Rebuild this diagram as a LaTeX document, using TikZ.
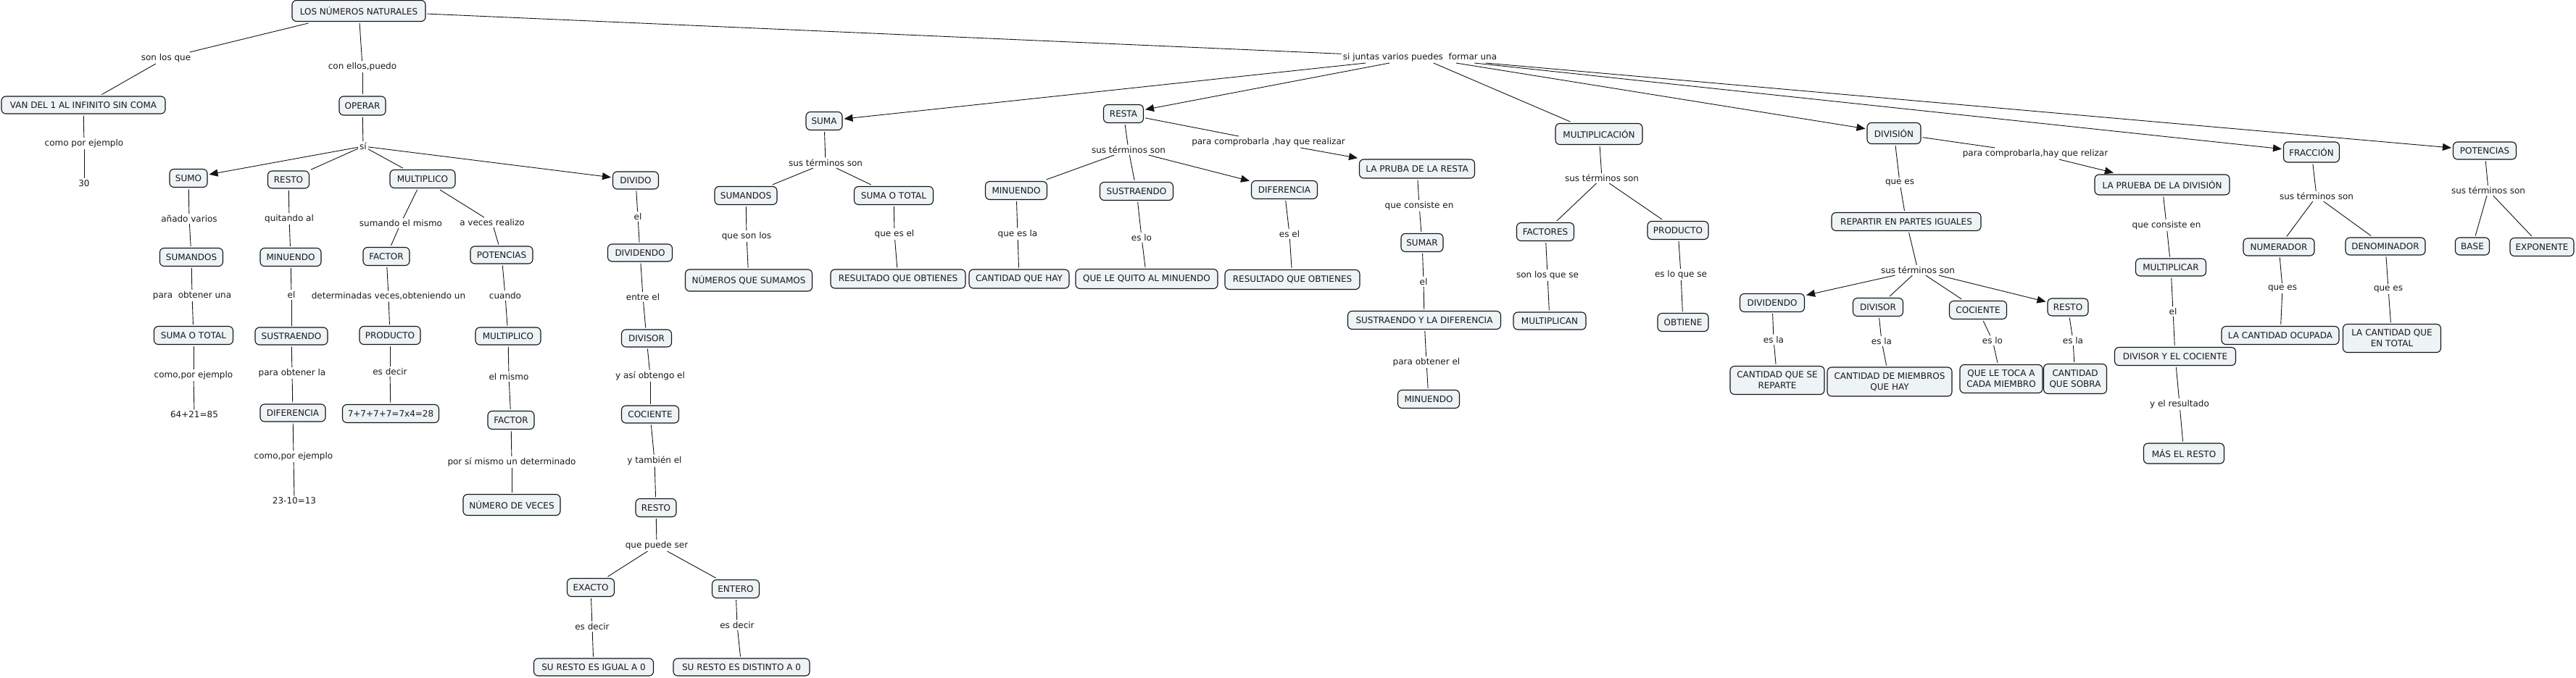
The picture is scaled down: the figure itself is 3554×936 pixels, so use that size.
\documentclass[tikz,border=0pt]{standalone}
\usepackage{fontspec}
\setmainfont{DejaVu Sans}
\usetikzlibrary{arrows.meta}
\definecolor{cfill}{RGB}{238,243,246}
\definecolor{linec}{RGB}{20,20,20}
\definecolor{txt}{RGB}{25,25,25}
\newcommand{\mapfnt}{\fontsize{12}{15}\selectfont}
\begin{document}
\begin{tikzpicture}[x=1pt,y=-1pt,
  cpt/.style={draw=linec, line width=1.1pt, rounded corners=6pt, fill=cfill, inner sep=0pt, outer sep=2.5pt, align=center, text=txt, font=\mapfnt},
  lab/.style={inner sep=2pt, text=txt, font=\mapfnt},
  plain/.style={inner sep=2pt, text=txt, font=\mapfnt},
  cn/.style={draw=linec, line width=0.9pt},
  ca/.style={cn, -{Triangle[length=12pt,width=10pt]}}]
\fill[white] (0,0) rectangle (3554,936);
\useasboundingbox (0,0) rectangle (3554,936);
% ---------- concepts, left part
\node[cpt, minimum width=184pt, minimum height=29pt] (c1) at (495,15) {LOS NÚMEROS NATURALES};
\node[cpt, minimum width=226pt, minimum height=24pt] (c2) at (115,145) {VAN DEL 1 AL INFINITO SIN COMA};
\node[cpt, minimum width=64pt, minimum height=26pt] (c3) at (500,146) {OPERAR};
\node[cpt, minimum width=52pt, minimum height=25pt] (c4) at (260,246) {SUMO};
\node[cpt, minimum width=57pt, minimum height=24pt] (c5) at (398,248) {RESTO};
\node[cpt, minimum width=90pt, minimum height=25pt] (c6) at (583,247) {MULTIPLICO};
\node[cpt, minimum width=63pt, minimum height=24pt] (c7) at (877,249) {DIVIDO};
\node[cpt, minimum width=87pt, minimum height=25pt] (c8) at (264,355) {SUMANDOS};
\node[cpt, minimum width=84pt, minimum height=25pt] (c9) at (401,355) {MINUENDO};
\node[cpt, minimum width=64pt, minimum height=25pt] (c10) at (533,354) {FACTOR};
\node[cpt, minimum width=86pt, minimum height=24pt] (c11) at (692,352) {POTENCIAS};
\node[cpt, minimum width=89pt, minimum height=24pt] (c12) at (883,349) {DIVIDENDO};
\node[cpt, minimum width=109pt, minimum height=25pt] (c13) at (267,463) {SUMA O TOTAL};
\node[cpt, minimum width=100pt, minimum height=24pt] (c14) at (402,464) {SUSTRAENDO};
\node[cpt, minimum width=84pt, minimum height=25pt] (c15) at (538,463) {PRODUCTO};
\node[cpt, minimum width=90pt, minimum height=24pt] (c16) at (701,464) {MULTIPLICO};
\node[cpt, minimum width=69pt, minimum height=24pt] (c17) at (892,467) {DIVISOR};
\node[cpt, minimum width=90pt, minimum height=24pt] (c18) at (404,570) {DIFERENCIA};
\node[cpt, minimum width=133pt, minimum height=25pt] (c19) at (539,571) {7+7+7+7=7x4=28};
\node[cpt, minimum width=64pt, minimum height=25pt] (c20) at (705,580) {FACTOR};
\node[cpt, minimum width=79pt, minimum height=24pt] (c21) at (897,572) {COCIENTE};
\node[cpt, minimum width=134pt, minimum height=29pt] (c22) at (706,697) {NÚMERO DE VECES};
\node[cpt, minimum width=56pt, minimum height=25pt] (c23) at (905,701) {RESTO};
\node[cpt, minimum width=65pt, minimum height=25pt] (c24) at (815,811) {EXACTO};
\node[cpt, minimum width=65pt, minimum height=25pt] (c25) at (1015,813) {ENTERO};
\node[cpt, minimum width=165pt, minimum height=24pt] (c26) at (819,921) {SU RESTO ES IGUAL A 0};
\node[cpt, minimum width=188pt, minimum height=24pt] (c27) at (1023,921) {SU RESTO ES DISTINTO A 0};
\node[plain] (n30) at (116,253) {30};
\node[plain] (n64) at (268,572) {64+21=85};
\node[plain] (n23) at (406,691) {23-10=13};
% ---------- concepts, middle
\node[cpt, minimum width=50pt, minimum height=25pt] (c28) at (1137,167) {SUMA};
\node[cpt, minimum width=55pt, minimum height=25pt] (c29) at (1550,157) {RESTA};
\node[cpt, minimum width=86pt, minimum height=25pt] (c30) at (1029,270) {SUMANDOS};
\node[cpt, minimum width=109pt, minimum height=25pt] (c31) at (1233,270) {SUMA O TOTAL};
\node[cpt, minimum width=85pt, minimum height=25pt] (c32) at (1402,263) {MINUENDO};
\node[cpt, minimum width=101pt, minimum height=25pt] (c33) at (1568,264) {SUSTRAENDO};
\node[cpt, minimum width=91pt, minimum height=25pt] (c34) at (1772,262) {DIFERENCIA};
\node[cpt, minimum width=175pt, minimum height=30pt] (c35) at (1033,387) {NÚMEROS QUE SUMAMOS};
\node[cpt, minimum width=186pt, minimum height=26pt] (c36) at (1239,385) {RESULTADO QUE OBTIENES};
\node[cpt, minimum width=138pt, minimum height=26pt] (c37) at (1406,385) {CANTIDAD QUE HAY};
\node[cpt, minimum width=196pt, minimum height=27pt] (c38) at (1582,385) {QUE LE QUITO AL MINUENDO};
\node[cpt, minimum width=186pt, minimum height=27pt] (c39) at (1783,386) {RESULTADO QUE OBTIENES};
\node[cpt, minimum width=159pt, minimum height=26pt] (c40) at (1955,233) {LA PRUBA DE LA RESTA};
\node[cpt, minimum width=58pt, minimum height=25pt] (c41) at (1962,335) {SUMAR};
\node[cpt, minimum width=211pt, minimum height=25pt] (c42) at (1965,442) {SUSTRAENDO Y LA DIFERENCIA};
\node[cpt, minimum width=85pt, minimum height=25pt] (c43) at (1971,551) {MINUENDO};
\node[cpt, minimum width=120pt, minimum height=29pt] (c44) at (2206,185) {MULTIPLICACIÓN};
\node[cpt, minimum width=79pt, minimum height=25pt] (c45) at (2132,320) {FACTORES};
\node[cpt, minimum width=84pt, minimum height=25pt] (c46) at (2315,318) {PRODUCTO};
\node[cpt, minimum width=100pt, minimum height=24pt] (c47) at (2138,443) {MULTIPLICAN};
\node[cpt, minimum width=70pt, minimum height=25pt] (c48) at (2322,445) {OBTIENE};
% ---------- concepts, right
\node[cpt, minimum width=74pt, minimum height=29pt] (c49) at (2613,184) {DIVISIÓN};
\node[cpt, minimum width=206pt, minimum height=25pt] (c50) at (2630,306) {REPARTIR EN PARTES IGUALES};
\node[cpt, minimum width=89pt, minimum height=25pt] (c51) at (2445,418) {DIVIDENDO};
\node[cpt, minimum width=69pt, minimum height=25pt] (c52) at (2591,424) {DIVISOR};
\node[cpt, minimum width=79pt, minimum height=25pt] (c53) at (2729,428) {COCIENTE};
\node[cpt, minimum width=56pt, minimum height=24pt] (c54) at (2853,424) {RESTO};
\node[cpt, minimum width=130pt, minimum height=39pt] (c55) at (2452,525) {CANTIDAD QUE SE\\REPARTE};
\node[cpt, minimum width=172pt, minimum height=40pt] (c56) at (2607,527) {CANTIDAD DE MIEMBROS\\QUE HAY};
\node[cpt, minimum width=114pt, minimum height=39pt] (c57) at (2761,523) {QUE LE TOCA A\\CADA MIEMBRO};
\node[cpt, minimum width=87pt, minimum height=41pt] (c58) at (2863,523) {CANTIDAD\\QUE SOBRA};
\node[cpt, minimum width=186pt, minimum height=28pt] (c59) at (2983,255) {LA PRUEBA DE LA DIVISIÓN};
\node[cpt, minimum width=97pt, minimum height=24pt] (c60) at (2995,369) {MULTIPLICAR};
\node[cpt, minimum width=167pt, minimum height=25pt] (c61) at (3001,492) {DIVISOR Y EL COCIENTE};
\node[cpt, minimum width=111pt, minimum height=28pt] (c62) at (3013,626) {MÁS EL RESTO};
\node[cpt, minimum width=77pt, minimum height=28pt] (c63) at (3189,210) {FRACCIÓN};
\node[cpt, minimum width=98pt, minimum height=24pt] (c64) at (3144,341) {NUMERADOR};
\node[cpt, minimum width=110pt, minimum height=24pt] (c65) at (3291,340) {DENOMINADOR};
\node[cpt, minimum width=162pt, minimum height=25pt] (c66) at (3146,463) {LA CANTIDAD OCUPADA};
\node[cpt, minimum width=135pt, minimum height=39pt] (c67) at (3300,467) {LA CANTIDAD QUE\\EN TOTAL};
\node[cpt, minimum width=87pt, minimum height=24pt] (c68) at (3428,208) {POTENCIAS};
\node[cpt, minimum width=47pt, minimum height=24pt] (c69) at (3411,340) {BASE};
\node[cpt, minimum width=88pt, minimum height=25pt] (c70) at (3507,341) {EXPONENTE};
% ---------- linking phrases
\node[lab] (l1) at (229,80) {son los que};
\node[lab] (l2) at (500,92) {con ellos,puedo};
\node[lab] (l3) at (116,198) {como por ejemplo};
\node[lab] (l4) at (501,202) {sí};
\node[lab] (l5) at (261,302) {añado varios};
\node[lab] (l6) at (399,302) {quitando al};
\node[lab] (l7) at (553,308) {sumando el mismo};
\node[lab] (l8) at (679,307) {a veces realizo};
\node[lab] (l9) at (880,299) {el};
\node[lab] (l10) at (265,408) {para~ obtener una};
\node[lab] (l11) at (402,407) {el};
\node[lab] (l12) at (536,409) {determinadas veces,obteniendo un};
\node[lab] (l13) at (697,408) {cuando};
\node[lab] (l14) at (887,410) {entre el};
\node[lab] (l15) at (267,518) {como,por ejemplo};
\node[lab] (l16) at (403,515) {para obtener la};
\node[lab] (l17) at (538,513) {es decir};
\node[lab] (l18) at (702,520) {el mismo};
\node[lab] (l19) at (897,519) {y así obtengo el};
\node[lab] (l20) at (405,630) {como,por ejemplo};
\node[lab] (l21) at (706,638) {por sí mismo un determinado};
\node[lab] (l22) at (903,636) {y también el};
\node[lab] (l23) at (906,753) {que puede ser};
\node[lab] (l24) at (817,865) {es decir};
\node[lab] (l25) at (1017,863) {es decir};
\node[lab] (l26) at (1959,79) {si juntas varios puedes~ formar una};
\node[lab] (l27) at (1139,225) {sus términos son};
\node[lab] (l28) at (1557,207) {sus términos son};
\node[lab] (l29) at (1750,196) {para comprobarla ,hay que realizar};
\node[lab] (l30) at (1030,326) {que son los};
\node[lab] (l31) at (1234,323) {que es el};
\node[lab] (l32) at (1404,323) {que es la};
\node[lab] (l33) at (1575,328) {es lo};
\node[lab] (l34) at (1779,323) {es el};
\node[lab] (l35) at (1958,284) {que consiste en};
\node[lab] (l36) at (1964,389) {el};
\node[lab] (l37) at (1968,500) {para obtener el};
\node[lab] (l38) at (2210,246) {sus términos son};
\node[lab] (l39) at (2135,380) {son los que se};
\node[lab] (l40) at (2319,379) {es lo que se};
\node[lab] (l41) at (2621,252) {que es};
\node[lab] (l42) at (2646,373) {sus términos son};
\node[lab] (l43) at (2447,469) {es la};
\node[lab] (l44) at (2596,471) {es la};
\node[lab] (l45) at (2749,470) {es lo};
\node[lab] (l46) at (2860,470) {es la};
\node[lab] (l47) at (2808,212) {para comprobarla,hay que relizar};
\node[lab] (l48) at (2989,311) {que consiste en};
\node[lab] (l49) at (2998,430) {el};
\node[lab] (l50) at (3007,558) {y el resultado};
\node[lab] (l51) at (3196,271) {sus términos son};
\node[lab] (l52) at (3149,398) {que es};
\node[lab] (l53) at (3295,399) {que es};
\node[lab] (l54) at (3433,263) {sus términos son};
% ---------- connectors, left
\draw[cn] (c1) -- (l1); \draw[cn] (l1) -- (c2);
\draw[cn] (c2) -- (l3); \draw[cn] (l3) -- (n30);
\draw[cn] (c1) -- (l2); \draw[cn] (l2) -- (c3);
\draw[cn] (c3) -- (l4);
\draw[ca] (l4) -- (c4); \draw[cn] (l4) -- (c5);
\draw[cn] (l4) -- (c6); \draw[ca] (l4) -- (c7);
\draw[cn] (c4) -- (l5); \draw[cn] (l5) -- (c8);
\draw[cn] (c8) -- (l10); \draw[cn] (l10) -- (c13);
\draw[cn] (c13) -- (l15); \draw[cn] (l15) -- (n64);
\draw[cn] (c5) -- (l6); \draw[cn] (l6) -- (c9);
\draw[cn] (c9) -- (l11); \draw[cn] (l11) -- (c14);
\draw[cn] (c14) -- (l16); \draw[cn] (l16) -- (c18);
\draw[cn] (c18) -- (l20); \draw[cn] (l20) -- (n23);
\draw[cn] (c6) -- (l7); \draw[cn] (l7) -- (c10);
\draw[cn] (c10) -- (l12); \draw[cn] (l12) -- (c15);
\draw[cn] (c15) -- (l17); \draw[cn] (l17) -- (c19);
\draw[cn] (c6) -- (l8); \draw[cn] (l8) -- (c11);
\draw[cn] (c11) -- (l13); \draw[cn] (l13) -- (c16);
\draw[cn] (c16) -- (l18); \draw[cn] (l18) -- (c20);
\draw[cn] (c20) -- (l21); \draw[cn] (l21) -- (c22);
\draw[cn] (c7) -- (l9); \draw[cn] (l9) -- (c12);
\draw[cn] (c12) -- (l14); \draw[cn] (l14) -- (c17);
\draw[cn] (c17) -- (l19); \draw[cn] (l19) -- (c21);
\draw[cn] (c21) -- (l22); \draw[cn] (l22) -- (c23);
\draw[cn] (c23) -- (l23);
\draw[cn] (l23) -- (c24); \draw[cn] (l23) -- (c25);
\draw[cn] (c24) -- (l24); \draw[cn] (l24) -- (c26);
\draw[cn] (c25) -- (l25); \draw[cn] (l25) -- (c27);
% ---------- connectors, operations
\draw[cn] (c1) -- (l26);
\draw[ca] (l26) -- (c28); \draw[ca] (l26) -- (c29);
\draw[cn] (l26) -- (c44); \draw[ca] (l26) -- (c49);
\draw[ca] (l26) -- (c63); \draw[ca] (l26) -- (c68);
\draw[cn] (c28) -- (l27); \draw[cn] (l27) -- (c30); \draw[cn] (l27) -- (c31);
\draw[cn] (c30) -- (l30); \draw[cn] (l30) -- (c35);
\draw[cn] (c31) -- (l31); \draw[cn] (l31) -- (c36);
\draw[cn] (c29) -- (l28); \draw[cn] (l28) -- (c32); \draw[cn] (l28) -- (c33); \draw[ca] (l28) -- (c34);
\draw[cn] (c32) -- (l32); \draw[cn] (l32) -- (c37);
\draw[cn] (c33) -- (l33); \draw[cn] (l33) -- (c38);
\draw[cn] (c34) -- (l34); \draw[cn] (l34) -- (c39);
\draw[cn] (c29) -- (l29); \draw[ca] (l29) -- (c40);
\draw[cn] (c40) -- (l35); \draw[cn] (l35) -- (c41);
\draw[cn] (c41) -- (l36); \draw[cn] (l36) -- (c42);
\draw[cn] (c42) -- (l37); \draw[cn] (l37) -- (c43);
\draw[cn] (c44) -- (l38); \draw[cn] (l38) -- (c45); \draw[cn] (l38) -- (c46);
\draw[cn] (c45) -- (l39); \draw[cn] (l39) -- (c47);
\draw[cn] (c46) -- (l40); \draw[cn] (l40) -- (c48);
\draw[cn] (c49) -- (l41); \draw[cn] (l41) -- (c50);
\draw[cn] (c50) -- (l42);
\draw[ca] (l42) -- (c51); \draw[cn] (l42) -- (c52);
\draw[cn] (l42) -- (c53); \draw[ca] (l42) -- (c54);
\draw[cn] (c51) -- (l43); \draw[cn] (l43) -- (c55);
\draw[cn] (c52) -- (l44); \draw[cn] (l44) -- (c56);
\draw[cn] (c53) -- (l45); \draw[cn] (l45) -- (c57);
\draw[cn] (c54) -- (l46); \draw[cn] (l46) -- (c58);
\draw[cn] (c49) -- (l47); \draw[ca] (l47) -- (c59);
\draw[cn] (c59) -- (l48); \draw[cn] (l48) -- (c60);
\draw[cn] (c60) -- (l49); \draw[cn] (l49) -- (c61);
\draw[cn] (c61) -- (l50); \draw[cn] (l50) -- (c62);
\draw[cn] (c63) -- (l51); \draw[cn] (l51) -- (c64); \draw[cn] (l51) -- (c65);
\draw[cn] (c64) -- (l52); \draw[cn] (l52) -- (c66);
\draw[cn] (c65) -- (l53); \draw[cn] (l53) -- (c67);
\draw[cn] (c68) -- (l54); \draw[cn] (l54) -- (c69); \draw[cn] (l54) -- (c70);
\end{tikzpicture}
\end{document}
